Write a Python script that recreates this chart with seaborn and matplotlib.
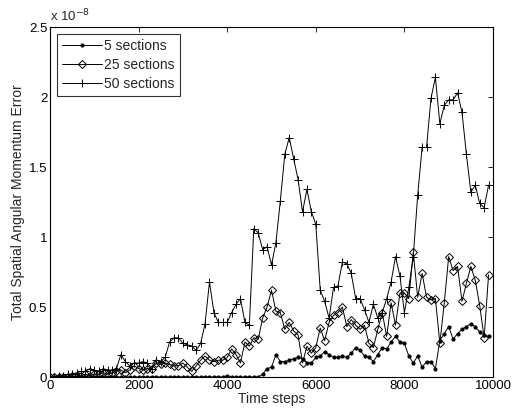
import numpy as np
import pandas as pd
import matplotlib
matplotlib.use("Agg")
import matplotlib.pyplot as plt
import seaborn as sns
from matplotlib.ticker import FuncFormatter

# Time axis: one sample every 100 steps
steps = np.arange(0, 10000, 100)

# Error values in units of 1e-8
err_5 = [
    0.00, 0.00, 0.00, 0.00, 0.00, 0.00, 0.00, 0.00, 0.00, 0.00,
    0.00, 0.00, 0.00, 0.00, 0.00, 0.00, 0.00, 0.00, 0.00, 0.00,
    0.00, 0.00, 0.00, 0.00, 0.00, 0.00, 0.00, 0.00, 0.00, 0.00,
    0.00, 0.00, 0.00, 0.00, 0.00, 0.00, 0.00, 0.00, 0.00, 0.00,
    0.01, 0.00, 0.00, 0.00, 0.00, 0.00, 0.00, 0.00, 0.02, 0.06,
    0.07, 0.16, 0.11, 0.11, 0.12, 0.13, 0.14, 0.13, 0.10, 0.10,
    0.14, 0.15, 0.18, 0.16, 0.14, 0.14, 0.15, 0.14, 0.17, 0.21,
    0.19, 0.15, 0.14, 0.11, 0.16, 0.21, 0.20, 0.25, 0.29, 0.25,
    0.24, 0.15, 0.10, 0.15, 0.07, 0.11, 0.11, 0.06, 0.26, 0.31,
    0.36, 0.27, 0.31, 0.34, 0.36, 0.38, 0.36, 0.32, 0.30, 0.29,
]
err_25 = [
    0.00, 0.00, 0.00, 0.00, 0.00, 0.01, 0.00, 0.01, 0.02, 0.01,
    0.02, 0.02, 0.03, 0.02, 0.03, 0.04, 0.05, 0.03, 0.05, 0.08,
    0.06, 0.05, 0.06, 0.06, 0.10, 0.09, 0.10, 0.09, 0.08, 0.08,
    0.10, 0.07, 0.04, 0.08, 0.12, 0.15, 0.12, 0.11, 0.12, 0.12,
    0.14, 0.20, 0.16, 0.10, 0.25, 0.22, 0.28, 0.27, 0.42, 0.50,
    0.62, 0.47, 0.46, 0.34, 0.39, 0.33, 0.30, 0.10, 0.22, 0.17,
    0.21, 0.35, 0.26, 0.39, 0.44, 0.46, 0.50, 0.36, 0.41, 0.37,
    0.34, 0.37, 0.24, 0.21, 0.34, 0.46, 0.29, 0.53, 0.37, 0.60,
    0.60, 0.56, 0.89, 0.57, 0.74, 0.57, 0.55, 0.56, 0.24, 0.53,
    0.86, 0.76, 0.79, 0.54, 0.67, 0.79, 0.69, 0.51, 0.28, 0.73,
]
err_50 = [
    0.00, 0.00, 0.01, 0.01, 0.02, 0.02, 0.03, 0.04, 0.04, 0.06,
    0.05, 0.04, 0.06, 0.05, 0.05, 0.06, 0.16, 0.11, 0.08, 0.10,
    0.10, 0.11, 0.10, 0.06, 0.12, 0.11, 0.14, 0.25, 0.28, 0.28,
    0.24, 0.23, 0.22, 0.19, 0.24, 0.38, 0.68, 0.46, 0.39, 0.39,
    0.39, 0.46, 0.52, 0.56, 0.39, 0.37, 1.06, 1.03, 0.91, 0.93,
    0.80, 0.96, 1.26, 1.59, 1.71, 1.56, 1.41, 1.18, 1.34, 1.18,
    1.09, 0.62, 0.54, 0.42, 0.64, 0.65, 0.82, 0.81, 0.74, 0.56,
    0.56, 0.48, 0.39, 0.52, 0.42, 0.46, 0.56, 0.68, 0.86, 0.72,
    0.46, 0.64, 0.86, 1.30, 1.64, 1.64, 1.99, 2.14, 1.81, 1.94,
    1.98, 1.98, 2.03, 1.89, 1.59, 1.32, 1.37, 1.24, 1.21, 1.37,
]

labels = ["5 sections", "25 sections", "50 sections"]
SCALE = 1e-8
y_ticks = [0, 0.5, 1, 1.5, 2, 2.5]
x_ticks = [0, 2000, 4000, 6000, 8000, 10000]

df = pd.DataFrame({
    "step": np.tile(steps, 3),
    "error": np.concatenate([err_5, err_25, err_50]) * SCALE,
    "series": np.repeat(labels, len(steps)),
})

sns.set_style("white")
plt.rcParams["font.family"] = ["Liberation Sans", "DejaVu Sans"]

fig = plt.figure(figsize=(5.14, 4.11), dpi=100)
ax = fig.add_axes([50 / 514, 1 - 377 / 411, 443 / 514, 350 / 411])

styles = {
    "5 sections": dict(marker=".", ms=4.5, mfc="k", mec="k"),
    "25 sections": dict(marker="D", ms=4.2, mfc="none", mec="k", mew=0.7),
    "50 sections": dict(marker="+", ms=6, mec="k", mew=0.7),
}
for name in labels:
    sub = df[df["series"] == name]
    sns.lineplot(data=sub, x="step", y="error", ax=ax, color="k", lw=0.7,
                 label=name, **styles[name])

ax.set_xlim(0, 10000)
ax.set_ylim(0, 2.5 * SCALE)
ax.set_xticks(x_ticks)
ax.set_yticks([t * SCALE for t in y_ticks])
ax.yaxis.set_major_formatter(FuncFormatter(lambda v, p: f"{v / SCALE:g}"))
ax.tick_params(direction="in", length=3.5, width=0.6, labelsize=9.5,
               top=True, right=True, colors="k")
ax.tick_params(axis="x", pad=2)
ax.tick_params(axis="y", pad=2)
for s in ax.spines.values():
    s.set_linewidth(0.8)
    s.set_color("k")

ax.text(0.0, 1.008, r"x 10$^{-8}$", transform=ax.transAxes, fontsize=9.5,
        ha="left", va="bottom")
ax.set_xlabel("Time steps", fontsize=10, labelpad=0)
ax.set_ylabel("Total Spatial Angular Momentum Error", fontsize=10, labelpad=3)

leg = ax.legend(loc="upper left", fontsize=10, frameon=True, fancybox=False,
                edgecolor="k", borderpad=0.35, handlelength=2.9,
                handletextpad=0.15, labelspacing=0.36, borderaxespad=0,
                bbox_to_anchor=(7 / 443, 1 - 7 / 350))
leg.get_frame().set_linewidth(0.8)

fig.savefig("out.png", dpi=100, facecolor="white")
